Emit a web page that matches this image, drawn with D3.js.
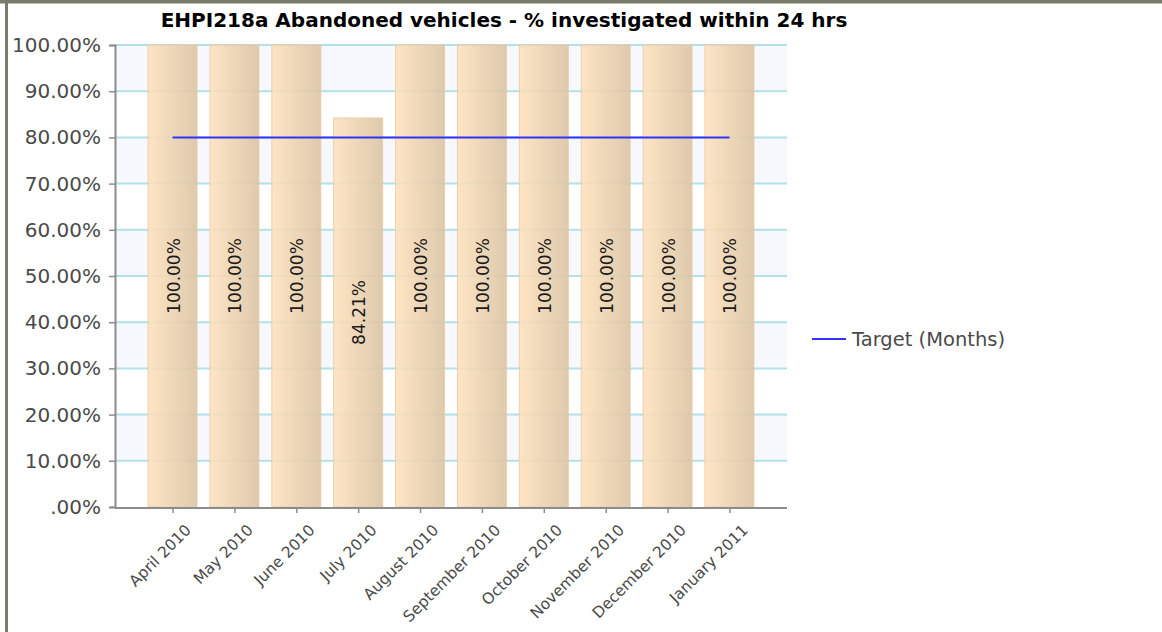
<!DOCTYPE html>
<html>
<head>
<meta charset="utf-8">
<script src="https://cdn.jsdelivr.net/npm/d3@7/dist/d3.min.js"></script>
<style>
  html, body { margin: 0; padding: 0; background: #ffffff; }
  svg { display: block; font-family: "DejaVu Sans", Verdana, sans-serif; }
</style>
</head>
<body>
<svg id="chart" width="1162" height="632"></svg>
<script>
// Monthly results for the indicator
const months = ["April 2010", "May 2010", "June 2010", "July 2010", "August 2010",
  "September 2010", "October 2010", "November 2010", "December 2010", "January 2011"];
const actual = [1.0, 1.0, 1.0, 0.8421, 1.0, 1.0, 1.0, 1.0, 1.0, 1.0];
const target = [0.8, 0.8, 0.8, 0.8, 0.8, 0.8, 0.8, 0.8, 0.8, 0.8];
const yTicks = [0, 0.1, 0.2, 0.3, 0.4, 0.5, 0.6, 0.7, 0.8, 0.9, 1.0];
const titleText = "EHPI218a Abandoned vehicles - % investigated within 24 hrs";
const legendLabel = "Target (Months)";

const svg = d3.select("#chart");
const plot = { left: 115, right: 787, top: 45, bottom: 507 };

const x = d3.scalePoint().domain(months).range([plot.left, plot.right]).padding(0.93);
const y = d3.scaleLinear().domain([0, 1]).range([plot.bottom, plot.top]);
const barW = 49;
const pct = v => d3.format(".2%")(v).replace(/^0\./, ".");

// outer frame
svg.append("rect").attr("x", 0).attr("y", 0).attr("width", 1162).attr("height", 3.5)
  .attr("fill", "#7b7b6b");
svg.append("rect").attr("x", 5).attr("y", 0).attr("width", 3).attr("height", 632)
  .attr("fill", "#7b7b6b");

// bar gradient
const defs = svg.append("defs");
const grad = defs.append("linearGradient").attr("id", "barFill")
  .attr("x1", "0%").attr("x2", "100%").attr("y1", "0%").attr("y2", "0%");
grad.append("stop").attr("offset", "0%").attr("stop-color", "#fde2be");
grad.append("stop").attr("offset", "100%").attr("stop-color", "#dcc4a4");

// alternating background bands
const bands = yTicks.slice(0, -1).map((t, i) => [t, yTicks[i + 1]]);
svg.append("g").selectAll("rect").data(bands).join("rect")
  .attr("x", plot.left).attr("width", plot.right - plot.left)
  .attr("y", d => y(d[1])).attr("height", d => y(d[0]) - y(d[1]))
  .attr("fill", (d, i) => i % 2 === 1 ? "#f7f8fe" : "#ffffff");

// horizontal gridlines
svg.append("g").selectAll("line").data(yTicks.slice(1)).join("line")
  .attr("x1", plot.left).attr("x2", plot.right)
  .attr("y1", d => y(d)).attr("y2", d => y(d))
  .attr("stroke", "#b2e1e9").attr("stroke-width", 2);

// bars
svg.append("g").selectAll("rect").data(actual).join("rect")
  .attr("x", (d, i) => x(months[i]) - barW / 2)
  .attr("width", barW)
  .attr("y", d => y(d))
  .attr("height", d => y(0) - y(d))
  .attr("fill", "url(#barFill)")
  .attr("fill-opacity", 0.9)
  .attr("stroke", "#e8c8a0")
  .attr("stroke-opacity", 0.8)
  .attr("stroke-width", 1);

// value labels inside bars
svg.append("g").selectAll("text").data(actual).join("text")
  .attr("transform", (d, i) => `translate(${x(months[i]) + 1},${(y(d) + y(0)) / 2}) rotate(-90)`)
  .attr("text-anchor", "middle")
  .attr("dominant-baseline", "central")
  .attr("font-size", 17)
  .attr("fill", "#1a1a1a")
  .text(d => pct(d));

// target line
const line = d3.line().x((d, i) => x(months[i])).y(d => y(d));
svg.append("path").datum(target).attr("d", line)
  .attr("fill", "none").attr("stroke", "#3333ff").attr("stroke-width", 2);

// y axis
const yAxis = svg.append("g").attr("transform", `translate(${plot.left},0)`)
  .call(d3.axisLeft(y).tickValues(yTicks).tickFormat(pct).tickSize(6).tickPadding(8));
yAxis.select(".domain").attr("stroke", "#8c8c8c").attr("stroke-width", 2);
yAxis.selectAll(".tick line").attr("stroke", "#8c8c8c").attr("stroke-width", 1.5);
yAxis.selectAll(".tick text").attr("font-size", 20).attr("fill", "#4a4a4a")
  .attr("font-family", "DejaVu Sans, sans-serif");

// x axis
const xAxis = svg.append("g").attr("transform", `translate(0,${plot.bottom + 1})`)
  .call(d3.axisBottom(x).tickSize(5).tickSizeOuter(0));
xAxis.select(".domain").attr("stroke", "#8c8c8c").attr("stroke-width", 2)
  .attr("d", `M${plot.left},0H${plot.right}`);
xAxis.selectAll(".tick line").attr("stroke", "#8c8c8c").attr("stroke-width", 1.5);
xAxis.selectAll(".tick text")
  .attr("font-size", 15.5).attr("fill", "#4a4a4a")
  .attr("font-family", "DejaVu Sans, sans-serif")
  .attr("text-anchor", "end")
  .attr("dy", null).attr("y", null)
  .attr("transform", "translate(19,23) rotate(-45)");

// title
svg.append("text").attr("x", 504).attr("y", 27)
  .attr("text-anchor", "middle")
  .attr("font-size", 20).attr("font-weight", "bold").attr("fill", "#000")
  .text(titleText);

// legend
const lg = svg.append("g").attr("transform", "translate(812,339)");
lg.append("line").attr("x1", 0).attr("x2", 34).attr("y1", 0).attr("y2", 0)
  .attr("stroke", "#3333ff").attr("stroke-width", 2);
lg.append("text").attr("x", 40).attr("y", 0).attr("dominant-baseline", "central")
  .attr("font-size", 19.5).attr("fill", "#4a4a4a").text(legendLabel);
</script>
</body>
</html>
